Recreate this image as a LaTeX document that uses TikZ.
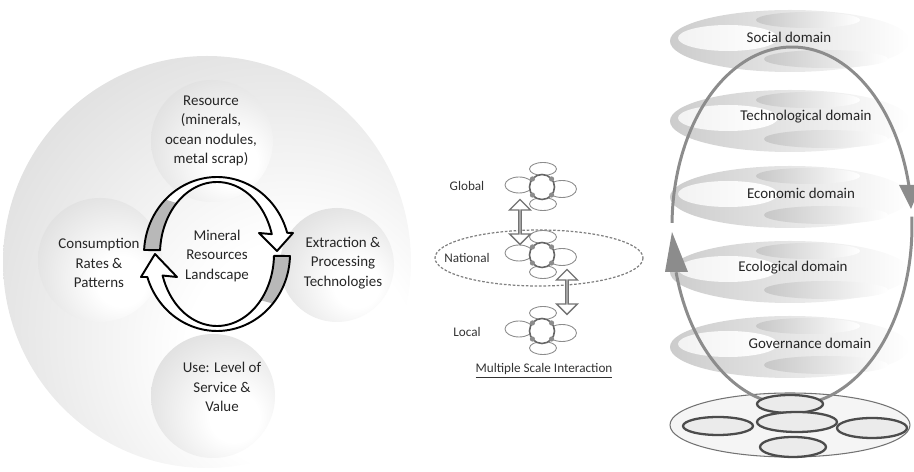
\documentclass[tikz,border=0pt]{standalone}
\usepackage{fontspec}
\setmainfont{Carlito}
\usetikzlibrary{shapes.geometric,shapes.arrows}
\pgfdeclareradialshading{bigsph}{\pgfpoint{14bp}{-14bp}}{color(0bp)=(white); color(14bp)=(white); color(38bp)=(black!13); color(52bp)=(black!30); color(75bp)=(black!38)}
\pgfdeclareradialshading{smsph}{\pgfpoint{10bp}{-10bp}}{color(0bp)=(white); color(10bp)=(white); color(34bp)=(black!12); color(50bp)=(black!28); color(75bp)=(black!36)}
\newcommand\myUpperArrowPath{plot[domain=183:344,samples=60,variable=\t] ({217+73*cos(\t)},{254+77*sin(\t)}) -- (293,233) -- (277,251) -- (259,233) -- plot[domain=344:183,samples=60,variable=\t] ({217+57*cos(\t)},{254+72*sin(\t)}) -- cycle}
\newcommand\myLowerArrowPath{plot[domain=1.5:162.6,samples=60,variable=\t] ({217+73*cos(\t)},{254+77*sin(\t)}) -- (141,277) -- (155,254) -- (177,277) -- plot[domain=162.6:1.5,samples=60,variable=\t] ({217+57*cos(\t)},{254+72*sin(\t)}) -- cycle}
\tikzset{
  flower/.pic={
    \draw[fl] (1,-18) ellipse [x radius=13.5, y radius=6.5];
    \draw[fl] (1,17) ellipse [x radius=13.5, y radius=6.5];
    \draw[fl] (-23,-2) ellipse [x radius=14, y radius=8];
    \draw[fl] (20,2) ellipse [x radius=14.5, y radius=8.5];
    \draw[flc] (0,0) circle [radius=12.5];
    \foreach \a in {40,140,220,320} \fill[black!45] (\a:12.5) circle [radius=2.6];
  },
  layer/.pic={
    \shade[left color=black!20, right color=white] (0,4) ellipse [x radius=120, y radius=31];
    \shade[left color=black!5, right color=white] (-62,1) ellipse [x radius=50, y radius=13];
    \shade[left color=black!22, right color=white] (18,-17) ellipse [x radius=52, y radius=8];
    \shade[left color=black!22, right color=white] (36,22) ellipse [x radius=62, y radius=9];
  }
}
\begin{document}
\begin{tikzpicture}[x=0.02cm,y=-0.02cm,
  lab/.style={font=\fontsize{8.5}{11}\selectfont, text=black!85, align=center, inner sep=0pt},
  slab/.style={font=\fontsize{7.5}{9}\selectfont, text=black!80, inner sep=0pt},
  sph/.style={shading=smsph},
  fl/.style={draw=black!45, line width=0.5pt},
  flc/.style={draw=black!60, line width=0.9pt, fill=white},
  dbl/.style={double arrow, draw=black!55, fill=white, line width=0.8pt, rotate=90, inner sep=0pt, minimum width=0.42cm, double arrow head extend=0.11cm, minimum height=0.9cm},
  agray/.style={draw=black!45, line width=1.7pt},
  inel/.style={draw=black!70, line width=1.3pt, fill=black!8}
]
\useasboundingbox (0,0) rectangle (914,472);
% ---------------- left: mineral resources landscape
\shade[shading=bigsph] (207,262) ellipse [x radius=204, y radius=206];
\shade[sph] (212,141) circle [radius=61];
\shade[sph] (100,260) circle [radius=62];
\shade[sph] (337,265) circle [radius=57];
\shade[sph] (213,396) circle [radius=62];
\node[lab] (res) at (211,131) {Resource\\(minerals,\\ocean nodules,\\metal scrap)};
\node[lab] (cons) at (99,263) {Consumption\\Rates \&\\Patterns};
\node[lab] (extr) at (343,263) {Extraction \&\\Processing\\Technologies};
\node[lab] (use) at (222,387) {Use: Level of\\Service \&\\Value};
% circular arrows
\path[fill=white] \myUpperArrowPath;
\fill[black!28] plot[domain=183:225,samples=20,variable=\t] ({217+73*cos(\t)},{254+77*sin(\t)}) -- plot[domain=225:183,samples=20,variable=\t] ({217+57*cos(\t)},{254+72*sin(\t)}) -- cycle;
\draw[line width=1.1pt, line join=round] \myUpperArrowPath;
\path[fill=white] \myLowerArrowPath;
\fill[black!28] plot[domain=1.5:40,samples=20,variable=\t] ({217+73*cos(\t)},{254+77*sin(\t)}) -- plot[domain=40:1.5,samples=20,variable=\t] ({217+57*cos(\t)},{254+72*sin(\t)}) -- cycle;
\draw[line width=1.1pt, line join=round] \myLowerArrowPath;
\node[lab] (mrl) at (217,256) {Mineral\\Resources\\Landscape};
% ---------------- middle: multiple scale interaction
\draw[black!50, line width=0.7pt, dash pattern=on 1.5pt off 1pt] (539,258) ellipse [x radius=104, y radius=28];
\pic at (542,187) {flower};
\pic at (542,255) {flower};
\pic at (542,331) {flower};
\node[dbl] (da1) at (520,222) {};
\node[dbl] (da2) at (567,292) {};
\node[slab] (glob) at (467,186) {Global};
\node[slab] (nat) at (467,258) {National};
\node[slab] (loc) at (467,332) {Local};
\node[slab] (msi) at (544,371) {\underline{Multiple Scale Interaction}};
% ---------------- right: domains
\foreach \yy in {37,117,193,268,343} \pic at (790,\yy) {layer};
\draw[black!55, line width=0.6pt, fill=black!4] (790,425) ellipse [x radius=120, y radius=32];
\draw[agray] plot[domain=181:346.8,samples=90,variable=\t] ({792+120*cos(\t)},{226+179*sin(\t)});
\draw[agray] plot[domain=357:525,samples=90,variable=\t] ({792+120*cos(\t)},{226+179*sin(\t)});
\fill[black!45] (665,272) -- (688,272) -- (672,232) -- cycle;
\fill[black!45] (899,185) -- (921,185) -- (911,209) -- cycle;
\draw[inel] (790,404) ellipse [x radius=33, y radius=9];
\draw[inel] (718,426) ellipse [x radius=35, y radius=9];
\draw[inel] (872,428) ellipse [x radius=35, y radius=10];
\draw[inel] (793,447) ellipse [x radius=33, y radius=10];
\draw[inel] (797,422) ellipse [x radius=40, y radius=10];
\node[lab] (soc) at (789,37) {Social domain};
\node[lab] (tech) at (806,117) {Technological domain};
\node[lab] (eco) at (801,193) {Economic domain};
\node[lab] (ecol) at (793,268) {Ecological domain};
\node[lab] (gov) at (810,343) {Governance domain};
\end{tikzpicture}
\end{document}
